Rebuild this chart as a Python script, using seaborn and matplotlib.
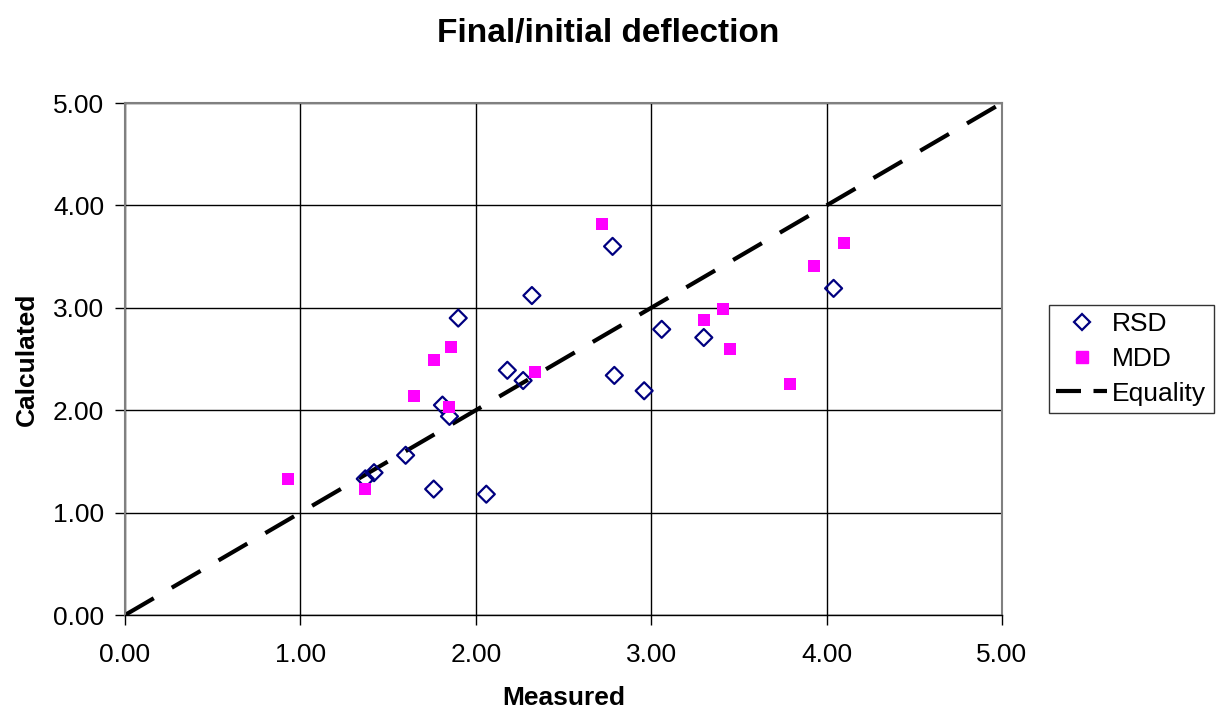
import numpy as np
import pandas as pd
import matplotlib
matplotlib.use("Agg")
import matplotlib.pyplot as plt
import seaborn as sns
from matplotlib.lines import Line2D

# data
rsd_measured = [1.37, 1.42, 1.60, 1.76, 1.81, 1.85, 1.90, 2.06, 2.18, 2.27,
                2.32, 2.78, 2.79, 2.96, 3.06, 3.30, 4.04]
rsd_calculated = [1.33, 1.39, 1.56, 1.23, 2.05, 1.94, 2.90, 1.18, 2.39, 2.29,
                  3.12, 3.60, 2.34, 2.19, 2.79, 2.71, 3.19]

mdd_measured = [0.93, 1.37, 1.65, 1.76, 1.85, 1.86, 2.34, 2.72, 3.30, 3.41,
                3.45, 3.79, 3.93, 4.10]
mdd_calculated = [1.33, 1.23, 2.14, 2.49, 2.03, 2.62, 2.37, 3.82, 2.88, 2.99,
                  2.60, 2.26, 3.41, 3.63]

equality = [0.0, 5.0]
ticks = [0, 1, 2, 3, 4, 5]

df_rsd = pd.DataFrame({"Measured": rsd_measured, "Calculated": rsd_calculated})
df_mdd = pd.DataFrame({"Measured": mdd_measured, "Calculated": mdd_calculated})
df_eq = pd.DataFrame({"Measured": equality, "Calculated": equality})

sns.set_style("white")
plt.rcParams['font.family'] = ['Liberation Sans', 'DejaVu Sans']
plt.rcParams['text.color'] = 'black'
plt.rcParams['axes.labelcolor'] = 'black'
plt.rcParams['xtick.color'] = 'black'
plt.rcParams['ytick.color'] = 'black'

fig = plt.figure(figsize=(12.17, 7.12), dpi=100)
ax = fig.add_axes([0.1027, 0.1362, 0.7206, 0.7191])

# gridlines
for t in ticks:
    ax.axvline(t, color="black", lw=1.0, zorder=1)
    ax.axhline(t, color="black", lw=1.0, zorder=1)

sns.lineplot(data=df_eq, x="Measured", y="Calculated", ax=ax, color="black",
             lw=3, zorder=2)
ax.lines[-1].set_dashes([8, 5])

sns.scatterplot(data=df_rsd, x="Measured", y="Calculated", ax=ax, marker="D",
                s=75, facecolor="none", edgecolor="#000080", linewidth=1.6,
                zorder=3)
sns.scatterplot(data=df_mdd, x="Measured", y="Calculated", ax=ax, marker="s",
                s=75, color="#FF00FF", edgecolor="none", zorder=4)

ax.set_xlim(0, 5)
ax.set_ylim(0, 5)
ax.set_xticks(ticks)
ax.set_yticks(ticks)
ax.set_xticklabels([f"{t:.2f}" for t in ticks], fontsize=19)
ax.set_yticklabels([f"{t:.2f}" for t in ticks], fontsize=19)
ax.tick_params(axis="both", direction="out", length=7, width=1,
               bottom=True, left=True)
ax.tick_params(axis="x", pad=13)
ax.tick_params(axis="y", pad=8)

for side in ["top", "right", "left"]:
    ax.spines[side].set_color("#808080")
    ax.spines[side].set_linewidth(1.5)
ax.spines["bottom"].set_color("black")
ax.spines["bottom"].set_linewidth(1.0)

ax.set_xlabel("Measured", fontsize=19, fontweight="bold", labelpad=14)
ax.set_ylabel("Calculated", fontsize=19, fontweight="bold", labelpad=10)
fig.suptitle("Final/initial deflection", fontsize=24, fontweight="bold", y=0.975)

handles = [
    Line2D([], [], marker="D", linestyle="none", markerfacecolor="none",
           markeredgecolor="#000080", markeredgewidth=1.6, markersize=8),
    Line2D([], [], marker="s", linestyle="none", color="#FF00FF", markersize=9),
    Line2D([], [], color="black", lw=3, dashes=[6, 3]),
]
leg = ax.legend(handles, ["RSD", "MDD", "Equality"], loc="center right",
                bbox_to_anchor=(0.9975, 0.4958), bbox_transform=fig.transFigure,
                fontsize=19, frameon=True, fancybox=False, edgecolor="black",
                handlelength=1.9, handletextpad=0.2, labelspacing=0.4,
                borderpad=0.3, borderaxespad=0)
leg.get_frame().set_linewidth(1.0)

fig.savefig("out.png", dpi=100)
